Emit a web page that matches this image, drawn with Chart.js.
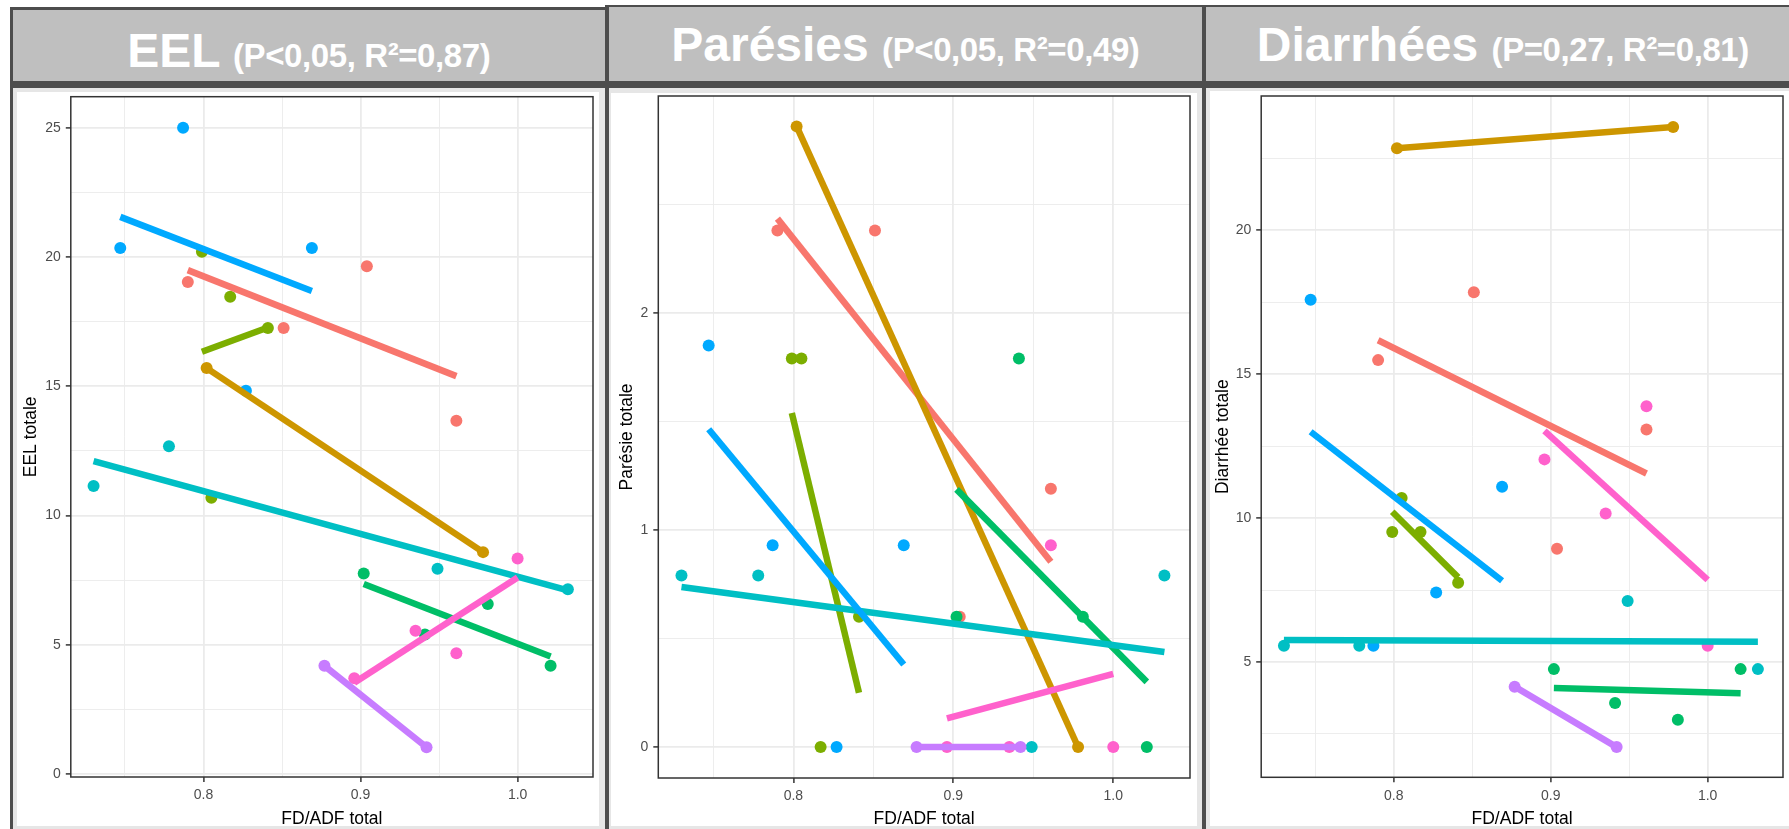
<!DOCTYPE html>
<html>
<head>
<meta charset="utf-8">
<script src="https://cdn.jsdelivr.net/npm/chart.js@4.4.0/dist/chart.umd.min.js"></script>
<style>
  body { margin: 0; width: 1789px; height: 829px; background: #fff; position: relative; overflow: hidden;
         font-family: "Liberation Sans", Arial, sans-serif; }
  .box { position: absolute; }
  .dark { background: #4d4d4d; }
  .head { background: #bfbfbf; }
  .light { background: #e6e6e6; }
  .white { background: #fff; }
  .title { position: absolute; color: #fff; font-weight: bold; font-size: 48px; line-height: 56px;
           text-align: center; white-space: nowrap; }
  .title span { font-size: 33px; letter-spacing: -0.4px; }
  canvas { position: absolute; }
</style>
</head>
<body>
<script>
"use strict";

// colours of the 8 groups (ggplot hue palette)
const groupColors = ["#F8766D", "#CD9600", "#7CAE00", "#00BE67", "#00BFC4", "#00A9FF", "#C77CFF", "#FF61CC"];

// FD/ADF total of each group (same in the 3 panels)
const groupX = [
  [0.790, 0.851, 0.904, 0.961],
  [0.802, 0.978],
  [0.799, 0.805, 0.817, 0.841],
  [0.902, 0.941, 0.981, 1.021],
  [0.730, 0.778, 0.949, 1.032],
  [0.747, 0.787, 0.827, 0.869],
  [0.877, 0.942],
  [0.896, 0.935, 0.961, 1.000]
];

// x range of each fitted line
const fitX = [
  [0.790, 0.961], [0.802, 0.978], [0.799, 0.841], [0.902, 1.021],
  [0.730, 1.032], [0.747, 0.869], [0.877, 0.942], [0.896, 1.000]
];

// EEL
const eelY = [
  [19.03, 17.25, 19.64, 13.66],
  [15.70, 8.58],
  [20.20, 10.68, 18.46, 17.25],
  [7.75, 5.39, 6.57, 4.18],
  [11.14, 12.68, 7.94, 7.14],
  [20.35, 25.00, 14.82, 20.35],
  [4.18, 1.03],
  [3.70, 5.54, 4.67, 8.33]
];
const eelFit = [
  [19.49, 15.39], [15.70, 8.58], [16.33, 17.27], [7.35, 4.54],
  [12.10, 7.10], [21.55, 18.68], [4.18, 1.03], [3.53, 7.60]
];

// Parésie
const paresieY = [
  [2.38, 2.38, 0.60, 1.19],
  [2.86, 0],
  [1.79, 1.79, 0, 0.60],
  [0.60, 1.79, 0.60, 0],
  [0.79, 0.79, 0, 0.79],
  [1.85, 0.93, 0, 0.93],
  [0, 0],
  [0, 0, 0.93, 0]
];
const paresieFit = [
  [2.435, 0.854], [2.86, 0], [1.539, 0.25], [1.187, 0.30],
  [0.737, 0.438], [1.464, 0.38], [0, 0], [0.132, 0.337]
];

// Diarrhée
const diarrheeY = [
  [15.49, 17.85, 8.93, 13.08],
  [22.85, 23.59],
  [9.52, 10.70, 9.52, 7.75],
  [4.75, 3.57, 2.99, 4.75],
  [5.56, 5.56, 7.12, 4.75],
  [17.59, 5.56, 7.41, 11.09],
  [4.14, 2.04],
  [12.04, 10.16, 13.89, 5.56]
];
const diarrheeFit = [
  [16.18, 11.55], [22.85, 23.59], [10.22, 7.94], [4.09, 3.91],
  [5.76, 5.70], [13.00, 7.82], [4.14, 2.04], [13.03, 7.85]
];

// axes
const xRange = [0.7155, 1.048];
const xTicks = [0.8, 0.9, 1.0];
const xMinor = [0.75, 0.85, 0.95];

const eelRange = [-0.12, 26.2];
const eelTicks = [0, 5, 10, 15, 20, 25];
const eelMinor = [2.5, 7.5, 12.5, 17.5, 22.5];

const paresieRange = [-0.143, 3.0];
const paresieTicks = [0, 1, 2];
const paresieMinor = [0.5, 1.5, 2.5];

const diarrheeRange = [0.99, 24.67];
const diarrheeTicks = [5, 10, 15, 20];
const diarrheeMinor = [2.5, 7.5, 12.5, 17.5, 22.5];


Chart.defaults.font.family = '"Liberation Sans", Arial, sans-serif';

// plain rectangles for the frames
function makeBox(x1, y1, x2, y2, cls) {
  const d = document.createElement("div");
  d.className = "box " + cls;
  d.style.left = x1 + "px";
  d.style.top = y1 + "px";
  d.style.width = (x2 - x1) + "px";
  d.style.height = (y2 - y1) + "px";
  document.body.appendChild(d);
}

function makeTitle(x1, x2, top, big, small) {
  const t = document.createElement("div");
  t.className = "title";
  t.style.left = x1 + "px";
  t.style.width = (x2 - x1) + "px";
  t.style.top = top + "px";
  t.textContent = big + " ";
  const s = document.createElement("span");
  s.textContent = small;
  t.appendChild(s);
  document.body.appendChild(t);
}

function isIn(list, v) {
  return list.some(m => Math.abs(m - v) < 1e-9);
}

// border round the plot area
const framePlugin = {
  id: "frame",
  afterDraw(chart) {
    const a = chart.chartArea;
    const ctx = chart.ctx;
    ctx.save();
    ctx.strokeStyle = "#333333";
    ctx.lineWidth = 1.5;
    ctx.strokeRect(a.left, a.top, a.right - a.left, a.bottom - a.top);
    ctx.restore();
  }
};

function buildDatasets(yValues, fitY) {
  const sets = [];
  groupColors.forEach((c, g) => {
    sets.push({
      data: groupX[g].map((x, i) => ({ x: x, y: yValues[g][i] })),
      backgroundColor: c,
      pointRadius: 6,
      pointBorderWidth: 0,
      pointHoverRadius: 6,
      order: 100 - g
    });
    sets.push({
      data: [{ x: fitX[g][0], y: fitY[g][0] }, { x: fitX[g][1], y: fitY[g][1] }],
      borderColor: c,
      borderWidth: 6.5,
      showLine: true,
      pointRadius: 0,
      pointHoverRadius: 0,
      fill: false,
      order: 50 - g
    });
  });
  return sets;
}

function axis(range, major, minor, decimals, sizeKey, size, title, titlePad) {
  const all = major.concat(minor).sort((a, b) => a - b);
  const opts = {
    type: "linear",
    min: range[0],
    max: range[1],
    afterBuildTicks(scale) {
      scale.ticks = all.map(v => ({ value: v }));
    },
    afterFit(scale) {
      scale[sizeKey] = size;
    },
    ticks: {
      autoSkip: false,
      maxRotation: 0,
      minRotation: 0,
      padding: 5,
      color: "#4d4d4d",
      font: { size: 14 },
      callback: v => isIn(major, v) ? v.toFixed(decimals) : ""
    },
    grid: {
      color: "#ebebeb",
      lineWidth: ctx => isIn(major, ctx.tick.value) ? 1.8 : 0.9,
      drawTicks: true,
      tickLength: 5,
      tickWidth: 1.5,
      tickColor: ctx => isIn(major, ctx.tick.value) ? "#333333" : "rgba(0,0,0,0)"
    },
    border: { display: false },
    title: {
      display: true,
      text: title,
      color: "#000000",
      font: { size: 17.5, lineHeight: 1.0 },
      padding: titlePad
    }
  };
  return opts;
}

function makeChart(p) {
  const canvas = document.createElement("canvas");
  canvas.width = p.cx2 - p.cx1;
  canvas.height = p.cy2 - p.cy1;
  canvas.style.left = p.cx1 + "px";
  canvas.style.top = p.cy1 + "px";
  canvas.style.width = (p.cx2 - p.cx1) + "px";
  canvas.style.height = (p.cy2 - p.cy1) + "px";
  document.body.appendChild(canvas);

  new Chart(canvas, {
    type: "scatter",
    data: { datasets: buildDatasets(p.y, p.fit) },
    options: {
      responsive: false,
      animation: false,
      events: [],
      layout: { padding: { left: 0, top: p.top - p.cy1, right: p.cx2 - p.right, bottom: 0 } },
      plugins: { legend: { display: false }, tooltip: { enabled: false } },
      scales: {
        x: axis(xRange, xTicks, xMinor, 1, "height", p.cy2 - p.bottom, "FD/ADF total", { top: 0, bottom: 1.5 }),
        y: axis(p.range, p.ticks, p.minor, 0, "width", p.left - p.cx1, p.title, { top: 5.5, bottom: 0 })
      }
    },
    plugins: [framePlugin]
  });
}

// panel frames
makeBox(9.5, 7, 609, 840, "dark");
makeBox(12.5, 9.5, 605, 81, "head");
makeBox(12.5, 88, 605, 840, "light");
makeBox(17, 91.5, 599, 826, "white");

makeBox(605, 5, 1205.7, 840, "dark");
makeBox(609, 7, 1201.7, 80.5, "head");
makeBox(609, 88, 1201.7, 840, "light");
makeBox(610.7, 93, 1196.7, 826, "white");

makeBox(1201.7, 5, 1800, 840, "dark");
makeBox(1205.7, 7, 1800, 80.5, "head");
makeBox(1205.7, 87.5, 1800, 840, "light");
makeBox(1210, 91, 1800, 826, "white");

// panel titles
makeTitle(12.5, 605, 22.5, "EEL", "(P<0,05, R²=0,87)");
makeTitle(609, 1201.7, 17, "Parésies", "(P<0,05, R²=0,49)");
makeTitle(1205.7, 1800, 17, "Diarrhées", "(P=0,27, R²=0,81)");

// the three charts
makeChart({ cx1: 17, cy1: 60, cx2: 599, cy2: 829, left: 70.8, top: 96.7, right: 593.3, bottom: 777,
            y: eelY, fit: eelFit, range: eelRange, ticks: eelTicks, minor: eelMinor, title: "EEL totale" });
makeChart({ cx1: 612.5, cy1: 60, cx2: 1196, cy2: 829, left: 657.8, top: 96, right: 1192.4, bottom: 778,
            y: paresieY, fit: paresieFit, range: paresieRange, ticks: paresieTicks, minor: paresieMinor, title: "Parésie totale" });
makeChart({ cx1: 1209, cy1: 60, cx2: 1789, cy2: 829, left: 1261.2, top: 96, right: 1785.3, bottom: 777.3,
            y: diarrheeY, fit: diarrheeFit, range: diarrheeRange, ticks: diarrheeTicks, minor: diarrheeMinor, title: "Diarrhée totale" });
</script>
</body>
</html>
